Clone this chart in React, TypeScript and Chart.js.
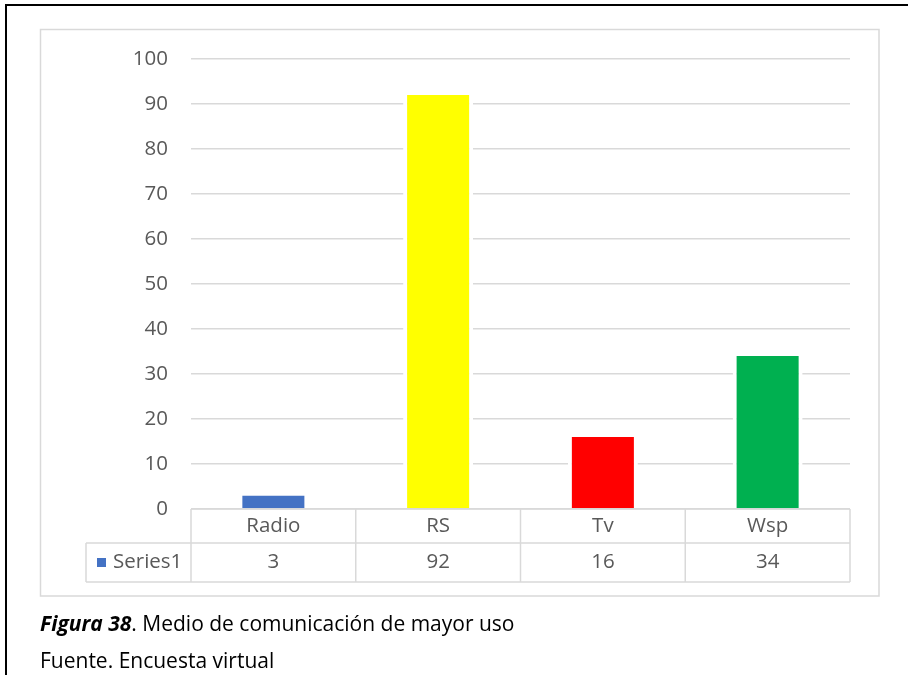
import React, { useEffect, useRef } from "react";
import { Chart, registerables } from "chart.js";

Chart.register(...registerables);

const categories = ["Radio", "RS", "Tv", "Wsp"];
const seriesName = "Series1";
const values = [3, 92, 16, 34];
const barColors = ["#4472C4", "#FFFF00", "#FF0000", "#00B050"];
const yMin = 0;
const yMax = 100;
const yStep = 10;
const captionBold = "Figura 38";
const captionRest = ". Medio de comunicación de mayor uso";
const sourceText = "Fuente. Encuesta virtual";

const FONT = "'Open Sans', 'Noto Sans', sans-serif";
const TEXT_COLOR = "#595959";
const LINE_COLOR = "#D9D9D9";

const framePlugin = {
  id: "framePlugin",
  beforeDraw(chart: any) {
    const ctx = chart.ctx;
    ctx.save();
    ctx.fillStyle = "#FFFFFF";
    ctx.fillRect(0, 0, chart.width, chart.height);
    ctx.strokeStyle = LINE_COLOR;
    ctx.lineWidth = 1.5;
    ctx.strokeRect(40.5, 29.5, 838.5, 566.5);
    ctx.restore();
  },
};

const tablePlugin = {
  id: "tablePlugin",
  afterDraw(chart: any) {
    const ctx = chart.ctx;
    const area = chart.chartArea;
    const xs = chart.scales.x;
    const n = categories.length;
    const colW = (area.right - area.left) / n;
    const top = area.bottom;
    const mid = top + 34;
    const bot = mid + 39;
    const legendLeft = 86;
    ctx.save();
    ctx.strokeStyle = LINE_COLOR;
    ctx.lineWidth = 1.5;
    ctx.beginPath();
    ctx.moveTo(area.left, top);
    ctx.lineTo(area.right, top);
    ctx.moveTo(legendLeft, mid);
    ctx.lineTo(area.right, mid);
    ctx.moveTo(legendLeft, bot);
    ctx.lineTo(area.right, bot);
    for (let i = 0; i <= n; i++) {
      const x = area.left + i * colW;
      ctx.moveTo(x, top);
      ctx.lineTo(x, bot);
    }
    ctx.moveTo(legendLeft, mid);
    ctx.lineTo(legendLeft, bot);
    ctx.stroke();

    ctx.fillStyle = TEXT_COLOR;
    ctx.font = `20.5px ${FONT}`;
    ctx.textAlign = "center";
    ctx.textBaseline = "middle";
    categories.forEach((c, i) => {
      const x = xs.getPixelForValue(i);
      ctx.fillText(c, x, (top + mid) / 2);
      ctx.fillText(String(values[i]), x, (mid + bot) / 2);
    });
    ctx.fillStyle = barColors[0];
    ctx.fillRect(97, (mid + bot) / 2 - 4.5, 9, 9);
    ctx.fillStyle = TEXT_COLOR;
    ctx.textAlign = "left";
    ctx.fillText(seriesName, 113, (mid + bot) / 2);
    ctx.restore();
  },
};

export default function App() {
  const ref = useRef<HTMLCanvasElement | null>(null);
  useEffect(() => {
    if (!ref.current) return;
    const chart = new Chart(ref.current, {
      type: "bar",
      data: {
        labels: categories,
        datasets: [
          {
            label: seriesName,
            data: values,
            backgroundColor: barColors,
            borderColor: "#FFFFFF",
            borderWidth: { left: 4, right: 4, top: 0, bottom: 0 } as any,
            borderSkipped: false,
            barPercentage: 0.425,
            categoryPercentage: 1,
          },
        ],
      },
      options: {
        animation: false,
        responsive: false,
        maintainAspectRatio: false,
        layout: { padding: { top: 59, right: 58, bottom: 166, left: 0 } },
        plugins: {
          legend: { display: false },
          tooltip: { enabled: false },
          title: { display: false },
        },
        scales: {
          x: { display: false },
          y: {
            min: yMin,
            max: yMax,
            afterFit(scale: any) {
              scale.width = 191;
            },
            border: { display: false },
            grid: { color: LINE_COLOR, lineWidth: 1.5, drawTicks: false },
            ticks: {
              stepSize: yStep,
              padding: 23,
              color: TEXT_COLOR,
              font: { family: FONT, size: 20.5 },
            },
          },
        },
      },
      plugins: [framePlugin, tablePlugin],
    });
    return () => chart.destroy();
  }, []);

  const captionStyle: React.CSSProperties = {
    position: "absolute",
    left: 40,
    fontFamily: FONT,
    fontSize: 21,
    color: "#000",
    whiteSpace: "nowrap",
    lineHeight: "28px",
  };

  return (
    <div style={{ position: "absolute", left: 0, top: 0, width: 908, height: 675, background: "#fff", overflow: "hidden" }}>
      <canvas ref={ref} width={908} height={675} style={{ position: "absolute", left: 0, top: 0 }} />
      <div style={{ position: "absolute", left: 5, top: 4, width: 903, height: 2, background: "#000" }} />
      <div style={{ position: "absolute", left: 5, top: 4, width: 2, height: 671, background: "#000" }} />
      <div style={{ ...captionStyle, top: 609 }}>
        <b><i>{captionBold}</i></b>
        {captionRest}
      </div>
      <div style={{ ...captionStyle, top: 646 }}>{sourceText}</div>
    </div>
  );
}
